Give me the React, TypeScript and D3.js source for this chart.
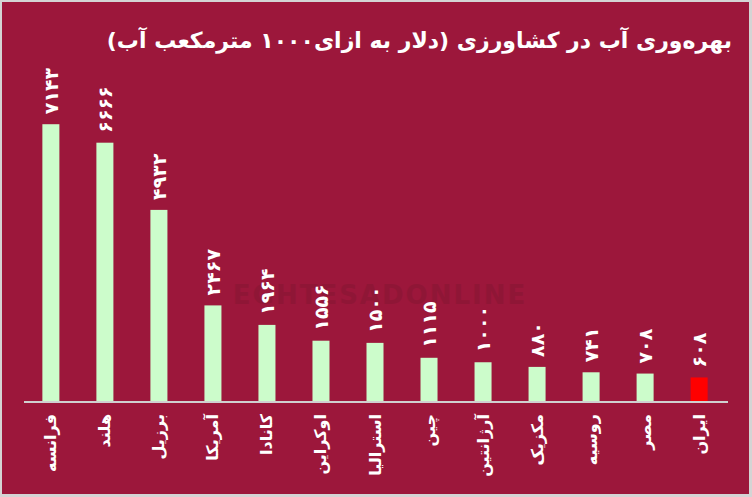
import React from "react";
import * as d3 from "d3";

const categories = ["فرانسه", "هلند", "برزیل", "آمریکا", "کانادا", "اوکراین", "استرالیا", "چین", "آرژانتین", "مکزیک", "روسیه", "مصر", "ایران"];
const values = [7143, 6666, 4932, 2467, 1964, 1556, 1500, 1115, 1000, 880, 741, 708, 608];
const highlight = "ایران";
const title = "بهره‌وری آب در کشاورزی (دلار به ازای۱۰۰۰ مترمکعب آب)";

const W = 752;
const H = 497;
const BG = "#9c173b";
const toFa = (n: number) => String(n).replace(/\d/g, (d) => "۰۱۲۳۴۵۶۷۸۹"[+d]);

export default function App() {
  const x = d3.scaleBand<string>().domain(categories).range([24, 726]).paddingInner(0.685).paddingOuter(0.34);
  const y = d3.scaleLinear().domain([0, 8000]).range([401, 91]);
  const font = "'DejaVu Sans', sans-serif";
  return (
    <svg width={W} height={H} style={{ position: "fixed", left: 0, top: 0 }} fontFamily={font}>
      <rect x={0} y={0} width={W} height={H} fill="#d4d4d4" />
      <rect x={2} y={2} width={W - 5} height={H - 5} fill={BG} />
      <text x={380} y={304} textAnchor="middle" fontSize={26} fontWeight="bold" fill="#8f1636" letterSpacing={2}>EGHTESADONLINE</text>
      <text x={732} y={48} textAnchor="start" fontSize={22} fontWeight="bold" fill="#fff" direction="rtl" style={{ unicodeBidi: "embed" }}>{title}</text>
      {categories.map((c, i) => {
        const cx = (x(c) as number) + x.bandwidth() / 2;
        const ty = y(values[i]);
        return (
          <g key={c}>
            <rect x={x(c)} y={ty} width={x.bandwidth()} height={y(0) - ty} fill={c === highlight ? "#ff0000" : "#ccfccb"} />
            <text transform={`translate(${cx},${ty - 10}) rotate(-90)`} textAnchor="start" dominantBaseline="central" fontSize={19} fontWeight="bold" fill="#fff" letterSpacing={3}>{toFa(values[i])}</text>
            <text transform={`translate(${cx},${414}) rotate(-90)`} textAnchor="end" dominantBaseline="central" fontSize={16} fontWeight="bold" fill="#fff">{c}</text>
          </g>
        );
      })}
      <line x1={24} x2={728} y1={402} y2={402} stroke="#d0d0d0" strokeWidth={2} />
    </svg>
  );
}
